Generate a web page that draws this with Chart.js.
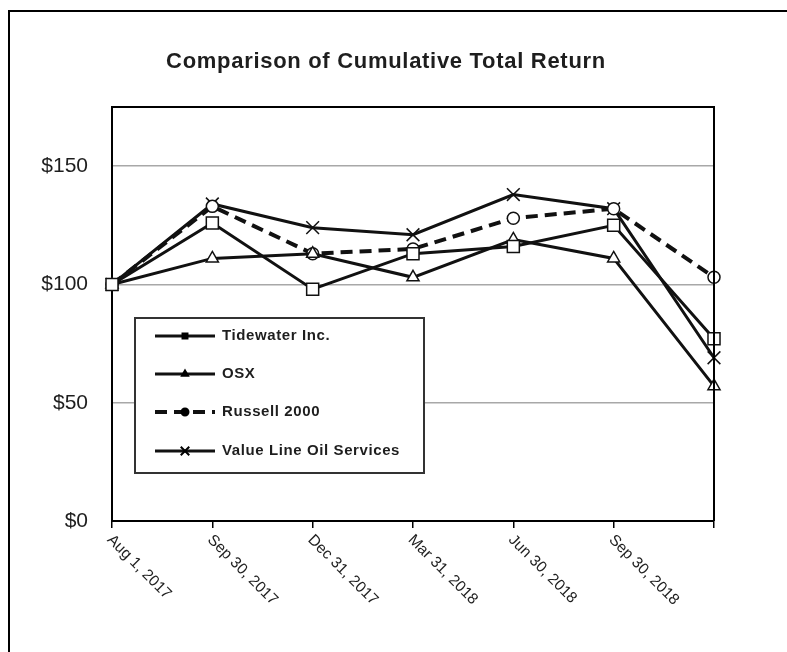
<!DOCTYPE html>
<html>
<head>
<meta charset="utf-8">
<script src="https://cdn.jsdelivr.net/npm/chart.js@4.4.0/dist/chart.umd.min.js"></script>
<style>
  html, body { margin: 0; padding: 0; background: #fff; }
  #wrap { position: relative; width: 787px; height: 652px; }
</style>
</head>
<body>
<div id="wrap"><canvas id="returnChart"></canvas></div>
<script>
// Chart data
const categories = ['Aug 1, 2017', 'Sep 30, 2017', 'Dec 31, 2017', 'Mar 31, 2018', 'Jun 30, 2018', 'Sep 30, 2018', ''];
const tidewater = [100, 126, 98, 113, 116, 125, 77];
const osx = [100, 111, 113, 103, 119, 111, 57];
const russell = [100, 133, 113, 115, 128, 132, 103];
const valueLine = [100, 134, 124, 121, 138, 132, 69];
const yTicks = [0, 50, 100, 150];
const yMax = 175;

const FONT = "'Liberation Sans', Arial, sans-serif";
const INK = '#1e1e1e';

// Draws the outer frame, title, plot box, slanted x labels and the boxed legend
const decorPlugin = {
  id: 'decor',
  afterDraw(chart) {
    const ctx = chart.ctx;
    const area = chart.chartArea;
    const xScale = chart.scales.x;
    ctx.save();

    // outer frame (top + left edges only, the rest is cropped off)
    ctx.strokeStyle = '#000';
    ctx.lineWidth = 2;
    ctx.beginPath();
    ctx.moveTo(9, 652);
    ctx.lineTo(9, 11);
    ctx.lineTo(787, 11);
    ctx.stroke();

    // title
    ctx.fillStyle = INK;
    ctx.font = 'bold 22px ' + FONT;
    ctx.letterSpacing = '0.7px';
    ctx.textAlign = 'center';
    ctx.textBaseline = 'middle';
    ctx.fillText('Comparison of Cumulative Total Return', 386, 62);
    ctx.letterSpacing = '0px';

    // top and right edges of the plot box
    ctx.strokeStyle = '#000';
    ctx.lineWidth = 2;
    ctx.beginPath();
    ctx.moveTo(area.left, area.top);
    ctx.lineTo(area.right, area.top);
    ctx.lineTo(area.right, area.bottom);
    ctx.stroke();

    // x labels slanting down to the right from each tick
    ctx.font = '15.5px ' + FONT;
    ctx.textAlign = 'left';
    ctx.textBaseline = 'top';
    categories.forEach((label, i) => {
      if (!label) return;
      const x = xScale.getPixelForValue(i);
      ctx.save();
      ctx.translate(x + 3, area.bottom + 11);
      ctx.rotate(Math.PI / 4);
      ctx.fillText(label, 0, 0);
      ctx.restore();
    });

    // legend box
    const box = { left: 135, top: 318, width: 289, height: 155 };
    ctx.fillStyle = '#fff';
    ctx.fillRect(box.left, box.top, box.width, box.height);
    ctx.strokeStyle = '#333';
    ctx.lineWidth = 2;
    ctx.strokeRect(box.left, box.top, box.width, box.height);

    const rowY = [336, 374, 412, 451];
    chart.data.datasets.forEach((ds, i) => {
      const y = rowY[i];
      ctx.save();
      ctx.strokeStyle = ds.borderColor;
      ctx.lineWidth = ds.borderWidth;
      ctx.setLineDash(ds.borderDash || []);
      ctx.beginPath();
      ctx.moveTo(155, y);
      ctx.lineTo(215, y);
      ctx.stroke();
      ctx.restore();

      ctx.save();
      ctx.fillStyle = '#000';
      ctx.strokeStyle = '#000';
      Chart.helpers.drawPoint(ctx, {
        pointStyle: ds.pointStyle,
        radius: ds.pointStyle === 'crossRot' ? 6 : 3.5,
        rotation: 0,
        borderWidth: 1.2
      }, 185, y);
      ctx.restore();

      ctx.fillStyle = INK;
      ctx.font = 'bold 15px ' + FONT;
      ctx.letterSpacing = '0.6px';
      ctx.textAlign = 'left';
      ctx.textBaseline = 'middle';
      ctx.fillText(ds.label, 222, y);
      ctx.letterSpacing = '0px';
    });

    ctx.restore();
  }
};

function series(label, data, style, radius, dash) {
  return {
    label: label,
    data: data,
    borderColor: '#111',
    borderWidth: dash ? 4 : 3,
    borderDash: dash || [],
    pointStyle: style,
    pointRadius: radius,
    pointBackgroundColor: '#fff',
    pointBorderColor: '#111',
    pointBorderWidth: 1.5,
    tension: 0,
    fill: false,
    clip: false
  };
}

const ctx = document.getElementById('returnChart').getContext('2d');
const returnChart = new Chart(ctx, {
  type: 'line',
  data: {
    labels: categories,
    datasets: [
      series('Tidewater Inc.', tidewater, 'rect', 8.5),
      series('OSX', osx, 'triangle', 7),
      series('Russell 2000', russell, 'circle', 6, [12, 7]),
      series('Value Line Oil Services', valueLine, 'crossRot', 9)
    ]
  },
  options: {
    responsive: true,
    maintainAspectRatio: false,
    animation: false,
    events: [],
    layout: {
      padding: { top: 107, right: 73, left: 0, bottom: 0 }
    },
    plugins: {
      legend: { display: false },
      title: { display: false },
      tooltip: { enabled: false }
    },
    scales: {
      x: {
        offset: false,
        afterFit(scale) { scale.height = 131; },
        grid: {
          drawOnChartArea: false,
          drawTicks: true,
          tickLength: 7,
          color: '#000',
          lineWidth: 1.5
        },
        border: { display: true, color: '#000', width: 2 },
        ticks: { display: false, autoSkip: false }
      },
      y: {
        min: 0,
        max: yMax,
        afterFit(scale) { scale.width = 112; },
        afterBuildTicks(scale) {
          scale.ticks = yTicks.map(v => ({ value: v }));
        },
        grid: {
          color: '#a8a8a8',
          lineWidth: 1.5,
          drawTicks: false
        },
        border: { display: true, color: '#000', width: 2 },
        ticks: {
          color: INK,
          padding: 24,
          font: { family: FONT, size: 21 },
          callback: v => '$' + v
        }
      }
    }
  },
  plugins: [decorPlugin]
});
</script>
</body>
</html>
